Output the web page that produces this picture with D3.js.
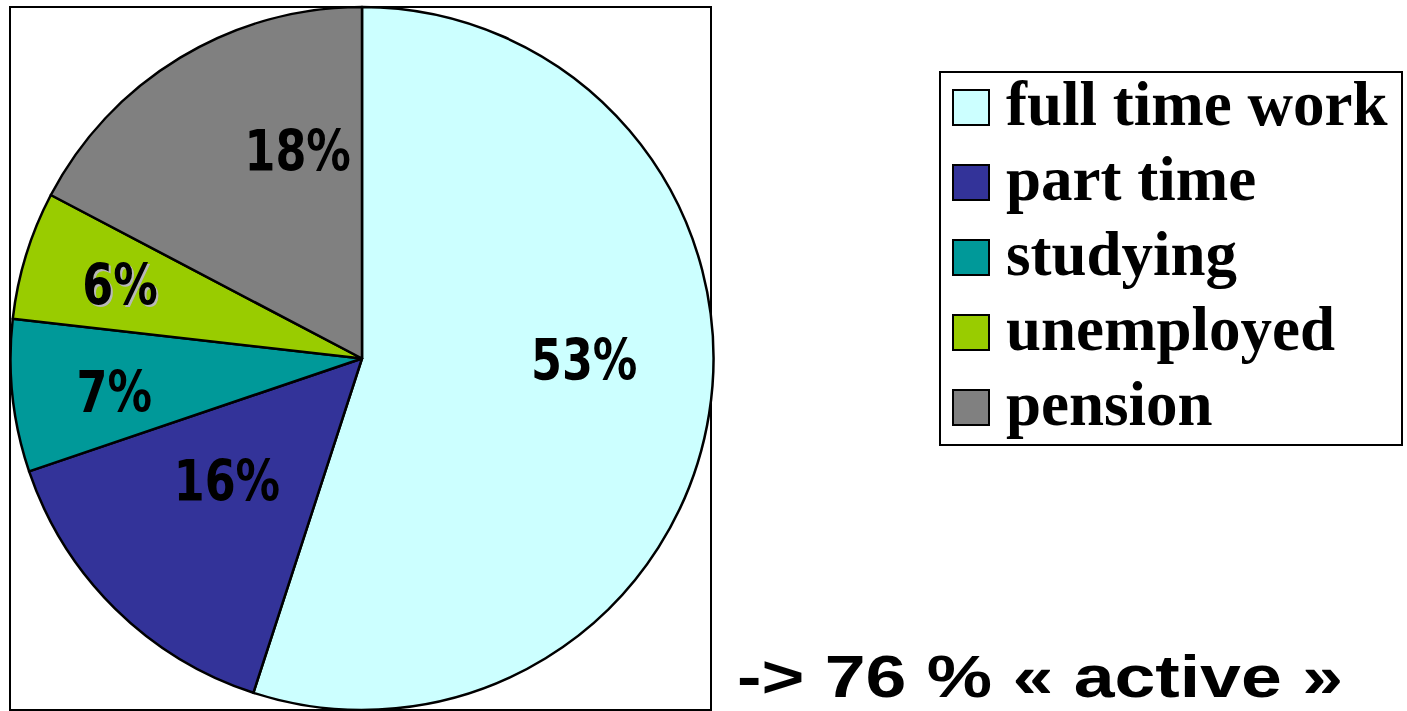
<!DOCTYPE html>
<html>
<head>
<meta charset="utf-8">
<script src="https://cdn.jsdelivr.net/npm/d3@7"></script>
<style>
  html, body { margin: 0; padding: 0; background: #fff; }
  svg { display: block; }
</style>
</head>
<body>
<svg id="chart" width="1407" height="711"></svg>
<script>
// ---------------- data ----------------
const categories = ["full time work", "part time", "studying", "unemployed", "pension"];
const values = [55, 14.8, 7.0, 5.9, 17.3];          // slice sizes as drawn (percent)
const valueLabels = ["53%", "16%", "7%", "6%", "18%"]; // labels printed on slices
const colors = ["#CCFFFF", "#333399", "#009999", "#99CC00", "#808080"];
const note = "-> 76 % \u00AB active \u00BB";

// ---------------- layout ----------------
const W = 1407, H = 711;
const frame = {x: 10, y: 7, w: 701, h: 703};
const cx = 362, cy = 358.5, R = 351.5;
const labelRadius = R * 0.64;
const labelNudge = {               // manual label placement tweaks (px)
  "full time work": [0, -35],
  "part time": [23, -39],
  "studying": [-24, 9],
  "unemployed": [-27, -8],
  "pension": [52, -16]
};
const shadowed = new Set(["unemployed"]);
const legendBox = {x: 940, y: 72, w: 462, h: 373};

const svg = d3.select("#chart");

// frame around the plot area
svg.append("rect")
  .attr("x", frame.x).attr("y", frame.y)
  .attr("width", frame.w).attr("height", frame.h)
  .attr("fill", "#fff").attr("stroke", "#000").attr("stroke-width", 2);

const data = categories.map((c, i) => ({cat: c, value: values[i], label: valueLabels[i], color: colors[i]}));

const pie = d3.pie().sort(null).value(d => d.value).startAngle(0).endAngle(2 * Math.PI);
const arc = d3.arc().innerRadius(0).outerRadius(R);
const labelArc = d3.arc().innerRadius(labelRadius).outerRadius(labelRadius);

const g = svg.append("g").attr("transform", `translate(${cx},${cy})`);
const arcs = pie(data);

g.selectAll("path.slice")
  .data(arcs)
  .join("path")
  .attr("class", "slice")
  .attr("d", arc)
  .attr("fill", d => d.data.color)
  .attr("stroke", "#000")
  .attr("stroke-width", 2.5)
  .attr("stroke-linejoin", "round");

const labelFont = "'DejaVu Sans', sans-serif";
const labelSize = 57;
const capOffset = 21;

function placeLabel(d) {
  const c = labelArc.centroid(d);
  const n = labelNudge[d.data.cat] || [0, 0];
  return [c[0] + n[0], c[1] + n[1] + capOffset];
}

const labelsG = g.append("g");
arcs.forEach(d => {
  const [x, y] = placeLabel(d);
  if (shadowed.has(d.data.cat)) {
    const s = labelsG.append("text")
      .attr("x", x + 2).attr("y", y + 2)
      .attr("text-anchor", "middle")
      .attr("font-family", labelFont)
      .attr("font-weight", "bold")
      .attr("font-size", labelSize)
      .attr("fill", "#b8b8b8")
      .text(d.data.label);
    const l = s.node().getComputedTextLength();
    s.attr("textLength", l * 0.78).attr("lengthAdjust", "spacingAndGlyphs");
  }
  const t = labelsG.append("text")
    .attr("x", x).attr("y", y)
    .attr("text-anchor", "middle")
    .attr("font-family", labelFont)
    .attr("font-weight", "bold")
    .attr("font-size", labelSize)
    .attr("fill", "#000")
    .text(d.data.label);
  const len = t.node().getComputedTextLength();
  t.attr("textLength", len * 0.78).attr("lengthAdjust", "spacingAndGlyphs");
});

// legend
svg.append("rect")
  .attr("x", legendBox.x).attr("y", legendBox.y)
  .attr("width", legendBox.w).attr("height", legendBox.h)
  .attr("fill", "#fff").attr("stroke", "#000").attr("stroke-width", 2);

const legendY = d3.scalePoint().domain(categories).range([90, 390]);
const leg = svg.append("g").selectAll("g")
  .data(data)
  .join("g")
  .attr("transform", d => `translate(953,${legendY(d.cat)})`);

leg.append("rect")
  .attr("width", 36).attr("height", 35)
  .attr("fill", d => d.color)
  .attr("stroke", "#000").attr("stroke-width", 2);

leg.append("text")
  .attr("x", 53).attr("y", 35)
  .attr("font-family", "'Liberation Serif', 'Times New Roman', serif")
  .attr("font-weight", "bold")
  .attr("font-size", 63)
  .attr("fill", "#000")
  .text(d => d.cat);

// annotation
const nt = svg.append("text")
  .attr("x", 737).attr("y", 697)
  .attr("font-family", "'Liberation Sans', Arial, sans-serif")
  .attr("font-weight", "bold")
  .attr("font-size", 60)
  .attr("fill", "#000")
  .text(note);
nt.attr("textLength", 606).attr("lengthAdjust", "spacingAndGlyphs");
</script>
</body>
</html>
